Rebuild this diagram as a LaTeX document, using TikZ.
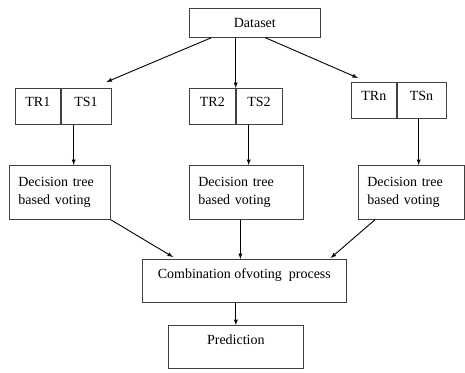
\documentclass[tikz,border=0pt]{standalone}
\usepackage{fontspec}
\setmainfont{Liberation Serif}
\tikzset{>=latex}
\tikzset{
  box/.style={draw=black!75, line width=.7pt, inner sep=0pt, anchor=north west, font=\fontsize{14}{18}\selectfont},
  cell/.style={box, text height=18pt, text depth=18pt},
  votebox/.style={box, minimum height=54pt, align=left, inner xsep=9pt},
  wide/.style={box, text height=19pt, text depth=24pt},
  link/.style={->, line width=.9pt}
}

\begin{document}
\begin{tikzpicture}[x=1pt, y=-1pt]
    \useasboundingbox(0, 0)rectangle(465, 372);
    \node[box, minimum width=131pt, text height=19pt, text depth=10pt](ds)at(189, 8){Dataset};
    \node[cell, minimum width=45pt](tr1)at(15, 88){TR1};
    \node[cell, minimum width=50pt](ts1)at(tr1.north east){TS1};
    \node[cell, minimum width=46pt](tr2)at(189, 88){TR2};
    \node[cell, minimum width=46pt](ts2)at(tr2.north east){TS2};
    \node[cell, minimum width=45pt](trn)at(351, 82){TRn};
    \node[cell, minimum width=49pt](tsn)at(trn.north east){TSn};
    \node[votebox, text width=83pt](dt1)at(9, 165){Decision tree\\based voting};
    \node[votebox, text width=96pt](dt2)at(189, 165){Decision tree\\based voting};
    \node[votebox, text width=88pt](dt3)at(358, 165){Decision tree\\based voting};
    \node[wide, minimum width=204pt](cv)at(142, 259){Combination ofvoting\ \ process};
    \node[wide, minimum width=135pt](pr)at(168, 325){Prediction};
    \draw[link]([xshift=-43.5pt]ds.south)--([xshift=-5pt, yshift=6pt]ts1.north east);
    \draw[link](ds.south -| ts2.north west)--(ts2.north west);
    \draw[link]([xshift=10.5pt]ds.south)--([xshift=7pt, yshift=4pt]trn.north west);
    \draw[link]([xshift=13pt]ts1.south west)--([xshift=13pt]ts1.south west |- dt1.north);
    \draw[link]([xshift=13pt]ts2.south west)--([xshift=13pt]ts2.south west |- dt2.north);
    \draw[link]([xshift=22pt]tsn.south west)--([xshift=22pt]tsn.south west |- dt3.north);
    \draw[link](dt1.south east)--([xshift=31pt, yshift=2pt]cv.north west);
    \draw[link]([xshift=-4pt]cv.north |- dt2.south)--([xshift=-4pt]cv.north);
    \draw[link]([xshift=17pt]dt3.south west)--([xshift=-16pt, yshift=1pt]cv.north east);
    \draw[link](pr.north |- cv.south)--(pr.north);
\end{tikzpicture}
\end{document}
